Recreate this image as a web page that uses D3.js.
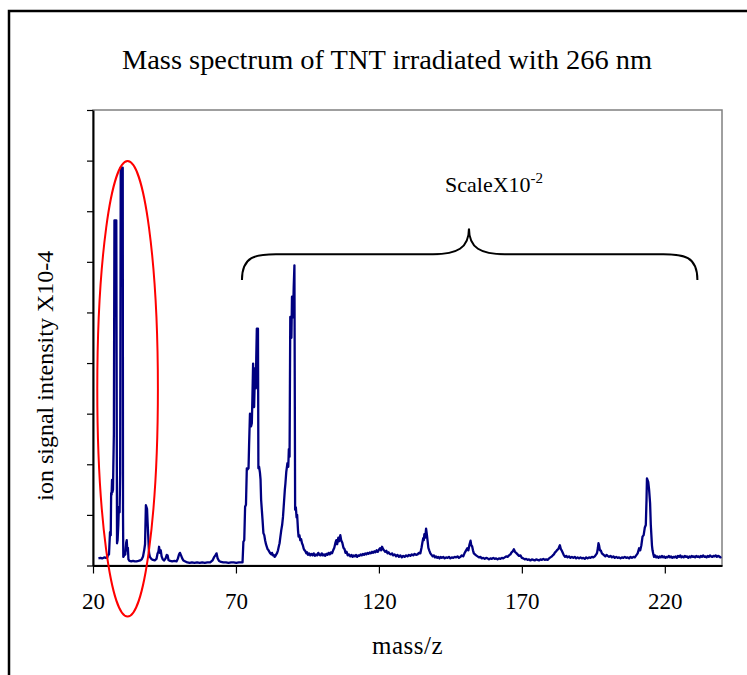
<!DOCTYPE html>
<html>
<head>
<meta charset="utf-8">
<script src="https://cdn.jsdelivr.net/npm/d3@7"></script>
<style>
  body { margin: 0; background: #fff; }
  svg { display: block; }
  svg text { font-family: "Liberation Serif", "Times New Roman", serif; }
</style>
</head>
<body>
<div id="chart"></div>
<script>
// Mass spectrum of TNT at 266 nm (y in axis units 0..9)

const xTicks = [20, 70, 120, 170, 220];
const yTicks = [0, 1, 2, 3, 4, 5, 6, 7, 8, 9];

// m/z 20-72: plotted at full scale
const lowMassSpectrum = [
  [21.9,0.14],[22.6,0.15],[23.2,0.14],[23.9,0.16],[24.5,0.15],[25.0,0.16],[25.25,0.21],[25.6,0.22],
  [25.95,0.66],[26.2,0.6],[26.35,1.43],[26.5,1.4],[26.65,1.69],[26.8,1.45],[27.0,1.5],[27.1,1.92],
  [27.3,2.6],[27.5,6.82],[28.15,6.82],[28.25,4.2],[28.4,0.44],[28.6,0.5],[28.85,0.8],[29.05,1.16],
  [29.3,1.05],[29.5,1.83],[29.7,7.86],[30.4,7.86],[30.5,1.0],[30.6,0.17],[30.9,0.2],[31.3,0.22],
  [31.6,0.45],[31.8,0.5],[32.0,0.3],[32.2,0.35],[32.4,0.12],[32.8,0.09],[33.4,0.08],[34.0,0.09],
  [34.6,0.08],[35.2,0.08],[35.9,0.09],[36.5,0.1],[37.0,0.12],[37.5,0.18],[37.9,0.3],[38.2,0.42],
  [38.5,1.19],[38.9,1.12],[39.1,0.85],[39.3,0.6],[39.6,0.25],[39.9,0.17],[40.4,0.13],[41.0,0.11],
  [41.6,0.1],[42.2,0.13],[42.6,0.24],[42.9,0.28],[43.1,0.37],[43.4,0.25],[43.7,0.3],[44.0,0.18],
  [44.4,0.12],[44.9,0.1],[45.4,0.14],[45.8,0.21],[46.1,0.2],[46.4,0.11],[47.0,0.09],[47.7,0.08],
  [48.5,0.09],[49.2,0.08],[49.7,0.14],[50.1,0.22],[50.4,0.25],[50.8,0.2],[51.2,0.14],[51.6,0.1],
  [52.3,0.08],[53.0,0.06],[53.8,0.05],[54.6,0.06],[55.5,0.05],[56.4,0.06],[57.3,0.05],[58.2,0.06],
  [59.1,0.05],[60.0,0.06],[61.0,0.06],[61.8,0.1],[62.3,0.16],[62.8,0.2],[63.2,0.24],[63.6,0.14],
  [64.1,0.09],[64.8,0.07],[65.6,0.06],[66.5,0.06],[67.4,0.05],[68.3,0.06],[69.2,0.06],[70.1,0.05],
  [71.0,0.06],[71.8,0.06],[72.3,0.06]
];

// m/z 72-240: plotted at x100 ("ScaleX10^-2")
const scaledSpectrum = [
  [72.6,0.47],[72.9,0.5],[73.2,1.16],[73.5,1.2],[73.8,1.92],[74.1,1.9],[74.4,1.92],[74.6,2.4],
  [74.9,3.0],[75.1,2.9],[75.3,2.75],[75.55,2.81],[75.75,3.3],[76.0,3.99],[76.2,3.2],[76.35,3.13],
  [76.55,3.6],[76.75,3.9],[76.95,3.5],[77.1,4.1],[77.3,4.68],[77.7,4.68],[77.85,1.92],[78.1,1.95],
  [78.4,1.83],[78.6,1.7],[78.8,1.3],[79.05,1.1],[79.3,0.9],[79.6,0.64],[79.9,0.6],[80.2,0.5],
  [80.5,0.42],[80.8,0.37],[81.1,0.32],[81.4,0.3],[81.7,0.27],[82.0,0.24],[82.3,0.22],[82.6,0.25],
  [82.9,0.2],[83.2,0.21],[83.5,0.17],[83.8,0.19],[84.1,0.22],[84.4,0.25],[84.7,0.3],[85.0,0.38],
  [85.25,0.44],[85.5,0.55],[85.85,0.7],[86.15,0.8],[86.45,0.96],[86.8,1.25],[87.1,1.5],[87.3,1.62],
  [87.6,1.85],[88.0,2.02],[88.3,1.95],[88.5,2.3],[88.75,2.15],[89.0,4.91],[89.2,4.6],[89.4,4.5],
  [89.6,5.31],[89.8,4.9],[90.0,5.0],[90.2,5.5],[90.45,5.93],[90.7,1.1],[90.95,1.15],[91.2,0.95],
  [91.4,1.0],[91.7,0.7],[91.9,0.57],[92.2,0.6],[92.5,0.5],[92.8,0.52],[93.1,0.44],[93.4,0.4],
  [93.7,0.33],[94.0,0.3],[94.3,0.28],[94.6,0.24],[94.9,0.26],[95.2,0.21],[95.6,0.24],[96.0,0.2],
  [96.4,0.23],[96.8,0.2],[97.2,0.24],[97.6,0.19],[98.0,0.22],[98.4,0.2],[98.8,0.25],[99.2,0.21],
  [99.6,0.2],[100.0,0.24],[100.4,0.2],[100.8,0.22],[101.2,0.19],[101.6,0.23],[102.0,0.21],[102.4,0.25],
  [102.8,0.22],[103.2,0.26],[103.6,0.24],[104.0,0.3],[104.4,0.35],[104.8,0.45],[105.1,0.5],[105.4,0.42],
  [105.8,0.55],[106.1,0.48],[106.5,0.6],[106.8,0.5],[107.2,0.45],[107.6,0.35],[108.0,0.32],[108.3,0.25],
  [108.7,0.27],[109.1,0.2],[109.5,0.22],[110.0,0.18],[110.4,0.21],[110.8,0.17],[111.2,0.2],[111.6,0.18],
  [112.0,0.21],[112.4,0.17],[112.8,0.2],[113.2,0.19],[113.6,0.22],[114.0,0.2],[114.4,0.23],[114.8,0.21],
  [115.2,0.24],[115.6,0.22],[116.0,0.25],[116.4,0.23],[116.8,0.26],[117.2,0.24],[117.6,0.27],[118.0,0.25],
  [118.4,0.28],[118.8,0.26],[119.2,0.3],[119.6,0.27],[120.0,0.31],[120.4,0.34],[120.8,0.3],[121.1,0.37],
  [121.4,0.33],[121.8,0.3],[122.2,0.27],[122.6,0.29],[123.0,0.24],[123.4,0.26],[123.8,0.23],[124.2,0.22],
  [124.6,0.24],[125.0,0.2],[125.5,0.22],[126.0,0.18],[126.5,0.21],[127.0,0.17],[127.5,0.2],[128.0,0.16],
  [128.5,0.19],[129.0,0.17],[129.5,0.2],[130.0,0.18],[130.5,0.21],[131.0,0.19],[131.5,0.22],[132.0,0.2],
  [132.5,0.23],[133.0,0.21],[133.5,0.22],[134.0,0.25],[134.5,0.24],[134.9,0.35],[135.2,0.45],[135.5,0.54],
  [135.7,0.5],[135.9,0.62],[136.2,0.55],[136.5,0.73],[136.8,0.6],[137.0,0.5],[137.3,0.35],[137.6,0.3],
  [138.0,0.24],[138.4,0.21],[138.8,0.18],[139.2,0.2],[139.6,0.16],[140.0,0.18],[140.4,0.15],[140.8,0.17],
  [141.2,0.14],[141.6,0.17],[142.0,0.15],[142.5,0.17],[143.0,0.14],[143.5,0.16],[144.0,0.15],[144.5,0.17],
  [145.0,0.14],[145.5,0.16],[146.0,0.15],[146.5,0.17],[147.0,0.16],[147.5,0.18],[148.0,0.15],[148.5,0.17],
  [149.0,0.2],[149.5,0.18],[150.0,0.25],[150.5,0.3],[150.9,0.34],[151.3,0.3],[151.7,0.42],[152.05,0.49],
  [152.3,0.4],[152.6,0.38],[152.9,0.3],[153.2,0.24],[153.6,0.22],[154.0,0.2],[154.5,0.18],[155.0,0.16],
  [155.5,0.17],[156.0,0.14],[156.5,0.15],[157.0,0.13],[157.5,0.15],[158.0,0.14],[158.5,0.12],[159.0,0.14],
  [159.5,0.13],[160.0,0.15],[160.5,0.13],[161.0,0.14],[161.5,0.12],[162.0,0.14],[162.5,0.13],[163.0,0.15],
  [163.5,0.14],[164.0,0.16],[164.5,0.18],[165.0,0.17],[165.5,0.2],[166.0,0.22],[166.4,0.26],[166.8,0.28],
  [167.2,0.32],[167.6,0.27],[168.0,0.25],[168.5,0.22],[169.0,0.19],[169.5,0.2],[170.0,0.15],[170.5,0.14],
  [171.0,0.12],[171.5,0.13],[172.0,0.11],[172.5,0.12],[173.0,0.1],[173.5,0.12],[174.0,0.11],[174.5,0.1],
  [175.0,0.12],[175.5,0.11],[176.0,0.1],[176.5,0.12],[177.0,0.11],[177.5,0.13],[178.0,0.11],[178.5,0.12],
  [179.0,0.11],[179.5,0.14],[180.0,0.16],[180.5,0.18],[180.8,0.2],[181.2,0.22],[181.6,0.26],[182.0,0.28],
  [182.4,0.31],[182.8,0.33],[183.0,0.36],[183.3,0.4],[183.6,0.33],[183.9,0.3],[184.3,0.25],[184.7,0.2],
  [185.1,0.17],[185.5,0.19],[186.0,0.16],[186.5,0.18],[187.0,0.15],[187.5,0.17],[188.0,0.15],[188.5,0.17],
  [189.0,0.14],[189.5,0.16],[190.0,0.14],[190.5,0.16],[191.0,0.14],[191.5,0.15],[192.0,0.13],[192.5,0.16],
  [193.0,0.14],[193.5,0.16],[194.0,0.15],[194.5,0.17],[195.0,0.16],[195.5,0.18],[196.0,0.22],[196.3,0.25],
  [196.6,0.35],[196.8,0.44],[197.0,0.4],[197.3,0.3],[197.6,0.3],[198.0,0.24],[198.4,0.22],[198.8,0.2],
  [199.2,0.18],[199.6,0.21],[200.0,0.19],[200.5,0.17],[201.0,0.19],[201.5,0.16],[202.0,0.18],[202.5,0.15],
  [203.0,0.17],[203.5,0.15],[204.0,0.16],[204.5,0.14],[205.0,0.16],[205.5,0.15],[206.0,0.17],[206.5,0.15],
  [207.0,0.16],[207.5,0.14],[208.0,0.17],[208.5,0.15],[209.0,0.17],[209.5,0.16],[210.0,0.2],[210.5,0.24],
  [211.0,0.34],[211.4,0.3],[211.8,0.4],[212.2,0.57],[212.6,0.6],[213.0,0.75],[213.35,0.8],[213.6,1.3],
  [213.75,1.72],[214.0,1.68],[214.2,1.65],[214.5,1.5],[214.85,1.23],[215.1,0.8],[215.3,0.6],[215.5,0.4],
  [215.7,0.3],[216.0,0.22],[216.25,0.17],[216.6,0.2],[217.0,0.16],[217.4,0.18],[217.8,0.15],[218.2,0.18],
  [218.6,0.16],[219.0,0.19],[219.4,0.16],[219.8,0.18],[220.2,0.15],[220.6,0.17],[221.0,0.16],[221.4,0.19],
  [221.8,0.16],[222.2,0.18],[222.6,0.15],[223.0,0.17],[223.4,0.16],[223.8,0.18],[224.2,0.15],[224.6,0.19],
  [225.0,0.17],[225.4,0.2],[225.8,0.16],[226.2,0.18],[226.6,0.16],[227.0,0.19],[227.4,0.17],[227.8,0.18],
  [228.2,0.15],[228.6,0.18],[229.0,0.16],[229.4,0.19],[229.8,0.17],[230.2,0.18],[230.6,0.16],[231.0,0.19],
  [231.4,0.17],[231.8,0.18],[232.2,0.16],[232.6,0.19],[233.0,0.17],[233.4,0.2],[233.8,0.17],[234.2,0.18],
  [234.6,0.16],[235.0,0.19],[235.4,0.17],[235.8,0.2],[236.2,0.18],[236.6,0.17],[237.0,0.19],[237.4,0.18],
  [237.8,0.2],[238.2,0.17],[238.6,0.19],[239.0,0.18],[239.4,0.16],[239.8,0.17]
];

// annotations in data units: ellipse round the low-mass peaks, brace over the scaled part
const lowMassEllipse = { mz: 32.1, signal: 3.49, rMz: 10.6, rSignal: 4.5 };
const braceSpan = { from: 72.1, to: 231.4, tip: 151.5, level: 6.15, ends: 5.64, top: 6.66 };

const W = 747, H = 675;
const plot = { left: 93, right: 722, top: 110, bottom: 565.5 };
const SERIF = "Liberation Serif, Times New Roman, serif";

const svg = d3.select("#chart").append("svg")
  .attr("width", W).attr("height", H)
  .attr("font-family", SERIF);

svg.append("rect").attr("width", W).attr("height", H).attr("fill", "#fff");

// outer chart frame (runs off right and bottom)
svg.append("rect")
  .attr("x", 9).attr("y", 11)
  .attr("width", W + 20).attr("height", H + 20)
  .attr("fill", "none").attr("stroke", "#000").attr("stroke-width", 2.5);

const x = d3.scaleLinear().domain([20, 240]).range([plot.left, plot.right]);
const y = d3.scaleLinear().domain([0, 9]).range([plot.bottom, plot.top]);

// plot area border (grey top/right)
svg.append("rect")
  .attr("x", plot.left).attr("y", plot.top)
  .attr("width", plot.right - plot.left).attr("height", plot.bottom - plot.top)
  .attr("fill", "none").attr("stroke", "#808080").attr("stroke-width", 1.5);

// x axis
const xAxis = svg.append("g")
  .attr("transform", `translate(0,${plot.bottom})`)
  .call(d3.axisBottom(x).tickValues(xTicks).tickSize(8).tickPadding(19).tickSizeOuter(0))
  .attr("font-family", SERIF);
xAxis.select(".domain").attr("stroke", "#000").attr("stroke-width", 2);
xAxis.selectAll(".tick line").attr("stroke", "#000").attr("stroke-width", 1.2);
xAxis.selectAll("text")
  .attr("font-family", SERIF).attr("font-size", 23).attr("fill", "#000");

// y axis, ticks only
const yAxis = svg.append("g")
  .attr("transform", `translate(${plot.left},0)`)
  .call(d3.axisLeft(y).tickValues(yTicks).tickSize(6).tickSizeOuter(0).tickFormat(""));
yAxis.select(".domain").attr("stroke", "#000").attr("stroke-width", 2);
yAxis.selectAll(".tick line").attr("stroke", "#000").attr("stroke-width", 1.2);

// spectrum
const line = d3.line().x(d => x(d[0])).y(d => y(d[1]));
svg.append("path")
  .datum(lowMassSpectrum.concat(scaledSpectrum))
  .attr("d", line)
  .attr("fill", "none")
  .attr("stroke", "#000080")
  .attr("stroke-width", 2.3)
  .attr("stroke-linejoin", "round");

// red ellipse
svg.append("ellipse")
  .attr("cx", x(lowMassEllipse.mz)).attr("cy", y(lowMassEllipse.signal))
  .attr("rx", x(lowMassEllipse.mz + lowMassEllipse.rMz) - x(lowMassEllipse.mz))
  .attr("ry", y(0) - y(lowMassEllipse.rSignal))
  .attr("fill", "none").attr("stroke", "#ff0000").attr("stroke-width", 2);

// curly brace
const bL = x(braceSpan.from), bR = x(braceSpan.to), bM = x(braceSpan.tip);
const bY = y(braceSpan.level), bE = y(braceSpan.ends), bT = y(braceSpan.top);
const brace = d3.path();
brace.moveTo(bL, bE);
brace.bezierCurveTo(bL, bY + 2, bL + 14, bY, bL + 34, bY);
brace.lineTo(bM - 36, bY);
brace.bezierCurveTo(bM - 12, bY, bM, bY - 6, bM, bT);
brace.bezierCurveTo(bM, bY - 6, bM + 12, bY, bM + 36, bY);
brace.lineTo(bR - 34, bY);
brace.bezierCurveTo(bR - 14, bY, bR, bY + 2, bR, bE);
svg.append("path")
  .attr("d", brace.toString())
  .attr("fill", "none").attr("stroke", "#000").attr("stroke-width", 2);

const scaleLabel = svg.append("text")
  .attr("x", 445).attr("y", 192)
  .attr("font-size", 22).attr("fill", "#000");
scaleLabel.append("tspan").text("ScaleX10");
scaleLabel.append("tspan").attr("dy", -9).attr("font-size", 15).text("-2");

// titles
svg.append("text")
  .attr("x", 387).attr("y", 69)
  .attr("text-anchor", "middle")
  .attr("font-size", 28).attr("fill", "#000")
  .attr("textLength", 530).attr("lengthAdjust", "spacingAndGlyphs")
  .text("Mass spectrum of TNT irradiated with 266 nm");

svg.append("text")
  .attr("x", (plot.left + plot.right) / 2).attr("y", 654)
  .attr("text-anchor", "middle")
  .attr("font-size", 25).attr("letter-spacing", 0.5).attr("fill", "#000")
  .text("mass/z");

svg.append("text")
  .attr("transform", `translate(53,${(plot.top + plot.bottom) / 2 + 38}) rotate(-90)`)
  .attr("text-anchor", "middle")
  .attr("font-size", 24).attr("fill", "#000")
  .text("ion signal intensity X10-4");
</script>
</body>
</html>
